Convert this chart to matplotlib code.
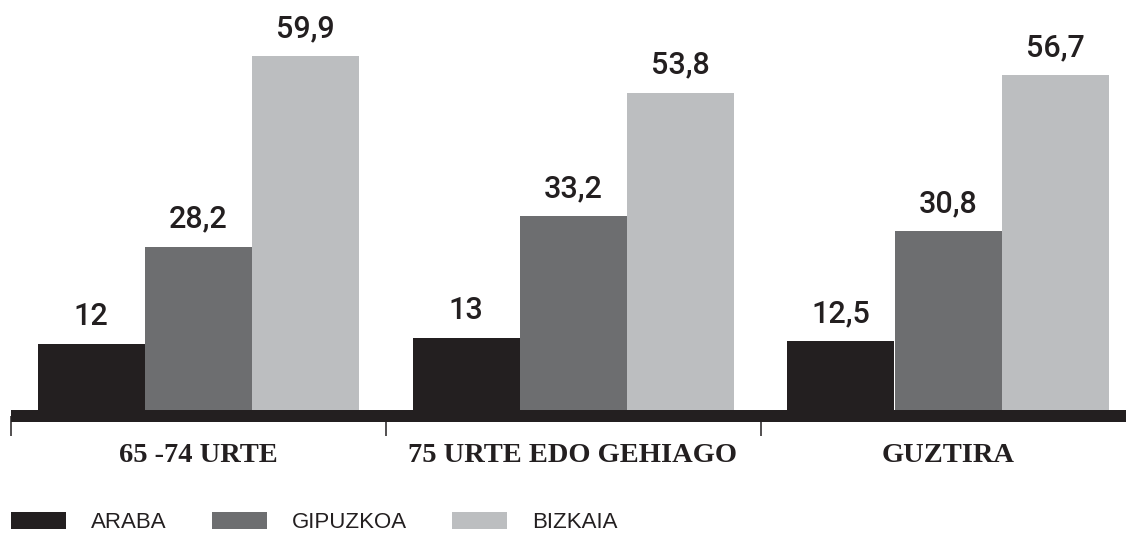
import matplotlib
matplotlib.use("Agg")
import matplotlib.pyplot as plt
import numpy as np

categories = ["65 -74 URTE", "75 URTE EDO GEHIAGO", "GUZTIRA"]
series_names = ["ARABA", "GIPUZKOA", "BIZKAIA"]
araba = [12, 13, 12.5]
gipuzkoa = [28.2, 33.2, 30.8]
bizkaia = [59.9, 53.8, 56.7]
colors = ["#231f20", "#6d6e70", "#bcbec0"]

W, H = 1126, 536
fig = plt.figure(figsize=(W / 100, H / 100), dpi=100)
base_px = 416.0
ppu = 6.01
ax = fig.add_axes([10.5 / W, (H - base_px) / H, (W - 10.5) / W, base_px / H])
ax.set_xlim(-0.5, -0.5 + (W - 10.5) / 375.0)
ax.set_ylim(0, base_px / ppu)

def fmt(v):
    return str(int(v)) if float(v).is_integer() else str(v).replace(".", ",")

bw = 107 / 375.0
x = np.arange(len(categories))
for k, (vals, name, col) in enumerate(zip([araba, gipuzkoa, bizkaia], series_names, colors)):
    xs = x + (k - 1) * bw
    ax.bar(xs, vals, width=bw, color=col, label=name, zorder=2)
    for xi, v in zip(xs, vals):
        ax.annotate(fmt(v), xy=(xi, v), xytext=(0, 19 * 0.72), textcoords="offset points",
                    ha="center", va="baseline", fontsize=22,
                    family=["Roboto", "Liberation Sans"], fontweight="medium",
                    color="#231f20")

for s in ["top", "left", "right"]:
    ax.spines[s].set_visible(False)
sp = ax.spines["bottom"]
sp.set_linewidth(12 * 0.72)
sp.set_color("#231f20")
sp.set_capstyle("butt")
sp.set_zorder(3)

ax.set_yticks([])
ax.set_xticks([])
ax.set_xticks([-0.5, 0.5, 1.5], minor=True)
ax.tick_params(axis="x", which="minor", length=20 * 0.72, width=1.1, color="#231f20",
               direction="out", labelbottom=False)

for xi, c in zip(x, categories):
    ax.text(xi, -(462 - base_px) / ppu, c, ha="center", va="baseline", fontsize=20.5,
            family="Liberation Serif", fontweight="bold", color="#231f20", clip_on=False)

fs = 16
fpx = fs / 0.72
leg = fig.legend(loc="lower left", bbox_to_anchor=(11 / W, 3 / H), ncol=3, frameon=False,
                 borderpad=0, borderaxespad=0, handlelength=55 / fpx, handleheight=18 / fpx,
                 handletextpad=25 / fpx, columnspacing=45 / fpx,
                 prop={"family": "Liberation Sans", "size": fs})
for t in leg.get_texts():
    t.set_color("#231f20")

fig.savefig("out.png", dpi=100)
